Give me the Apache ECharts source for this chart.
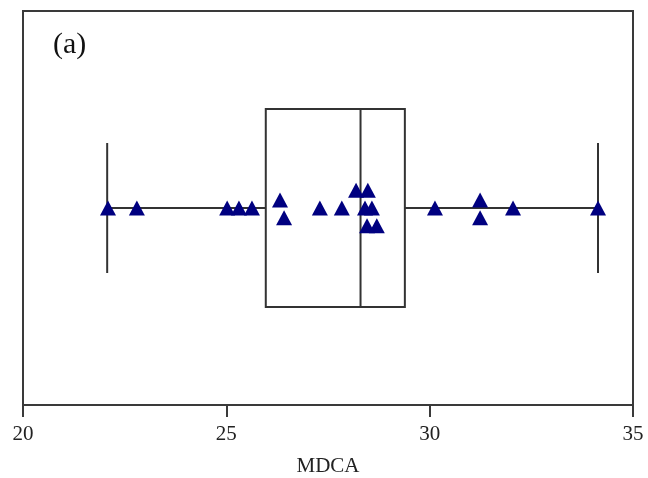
<!DOCTYPE html>
<html>
<head>
<meta charset="utf-8">
<script src="https://cdn.jsdelivr.net/npm/echarts@6/dist/echarts.min.js"></script>
<style>
html,body{margin:0;padding:0;background:#fff;}
#chart{width:648px;height:478px;}
</style>
</head>
<body>
<div id="chart"></div>
<script>
// ---- data ----
const xTicks = [20, 25, 30, 35];
const boxStats = [22.07, 25.97, 28.30, 29.39, 34.14]; // min, Q1, median, Q3, max
const mdcaValues = [22.09, 22.80, 25.02, 25.31, 25.63, 26.32, 26.42, 27.30, 27.84, 28.19, 28.48, 28.41, 28.58, 28.46, 28.70, 30.13, 31.24, 31.24, 32.05, 34.14];
const jitter = [0.5, 0.5, 0.5, 0.5, 0.5, 0.52, 0.475, 0.5, 0.5, 0.545, 0.545, 0.5, 0.5, 0.455, 0.455, 0.5, 0.52, 0.475, 0.5, 0.5];
const panelLabel = '(a)';
const axisTitle = 'MDCA';

const chart = echarts.init(document.getElementById('chart'), null, {renderer: 'canvas'});
const serif = '"Liberation Serif", "DejaVu Serif", serif';
const lineColor = '#333333';

const option = {
  animation: false,
  backgroundColor: '#ffffff',
  grid: {left: 23, right: 15, top: 11, bottom: 73, outerBoundsMode: 'none', containLabel: false, show: true, borderColor: '#3a3a3a', borderWidth: 2, backgroundColor: 'transparent'},
  xAxis: {
    type: 'value', min: xTicks[0], max: xTicks[xTicks.length - 1], interval: 5,
    axisLine: {show: true, lineStyle: {color: '#3a3a3a', width: 2}},
    axisTick: {show: true, inside: false, length: 12, lineStyle: {color: '#3a3a3a', width: 2}},
    splitLine: {show: false},
    axisLabel: {fontFamily: serif, fontSize: 21, color: '#222', margin: 19},
    name: axisTitle, nameLocation: 'middle', nameGap: 51,
    nameTextStyle: {fontFamily: serif, fontSize: 21, color: '#222'}
  },
  yAxis: {
    type: 'value', min: 0, max: 1, show: false
  },
  graphic: [{
    type: 'text', left: 53, top: 30,
    style: {text: panelLabel, font: '30px ' + serif, fill: '#111'}
  }],
  series: [
    {
      type: 'custom',
      data: [boxStats],
      z: 1,
      renderItem: function (params, api) {
        const mn = api.value(0), q1 = api.value(1), md = api.value(2), q3 = api.value(3), mx = api.value(4);
        const yc = 0.5, half = 0.251, cap = 0.165;
        const pMin = api.coord([mn, yc]), pQ1 = api.coord([q1, yc]), pQ3 = api.coord([q3, yc]), pMx = api.coord([mx, yc]);
        const top = api.coord([q1, yc + half])[1], bot = api.coord([q1, yc - half])[1];
        const cTop = api.coord([mn, yc + cap])[1], cBot = api.coord([mn, yc - cap])[1];
        const pMd = api.coord([md, yc]);
        const st = {stroke: lineColor, lineWidth: 2, fill: null};
        return {
          type: 'group',
          children: [
            {type: 'rect', shape: {x: pQ1[0], y: top, width: pQ3[0] - pQ1[0], height: bot - top}, style: st},
            {type: 'line', shape: {x1: pMd[0], y1: top, x2: pMd[0], y2: bot}, style: st},
            {type: 'line', shape: {x1: pMin[0], y1: pMin[1], x2: pQ1[0], y2: pQ1[1]}, style: st},
            {type: 'line', shape: {x1: pQ3[0], y1: pQ3[1], x2: pMx[0], y2: pMx[1]}, style: st},
            {type: 'line', shape: {x1: pMin[0], y1: cTop, x2: pMin[0], y2: cBot}, style: st},
            {type: 'line', shape: {x1: pMx[0], y1: cTop, x2: pMx[0], y2: cBot}, style: st}
          ]
        };
      }
    },
    {
      type: 'scatter',
      z: 2,
      symbol: 'triangle',
      symbolSize: [16, 15],
      itemStyle: {color: '#000080', opacity: 1},
      data: mdcaValues.map((v, i) => [v, jitter[i]])
    }
  ]
};
chart.setOption(option);
</script>
</body>
</html>
